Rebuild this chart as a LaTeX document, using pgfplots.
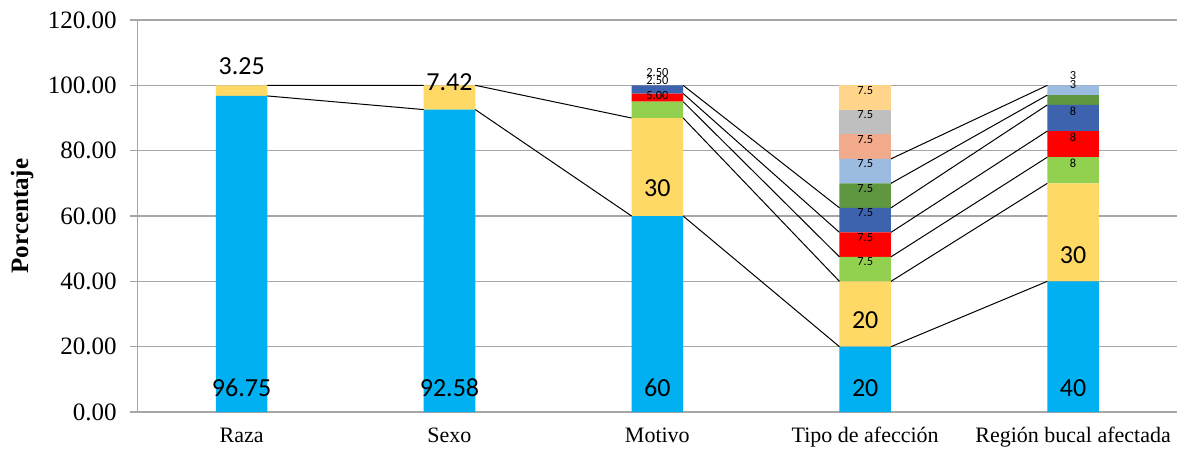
\documentclass[border=0pt]{standalone}
\usepackage{pgfplots}
\pgfplotsset{compat=1.18}
\usepackage{fontspec}
\setmainfont{Liberation Serif}
\newfontfamily\calib{Carlito}

\definecolor{cA}{HTML}{00B0F0}
\definecolor{cB}{HTML}{FFD966}
\definecolor{cC}{HTML}{92D050}
\definecolor{cD}{HTML}{FF0000}
\definecolor{cE}{HTML}{3D63AE}
\definecolor{cF}{HTML}{5F9640}
\definecolor{cG}{HTML}{9BBBE0}
\definecolor{cH}{HTML}{F2AA8C}
\definecolor{cI}{HTML}{BFBFBF}
\definecolor{cJ}{HTML}{FFD58C}
\definecolor{gridc}{HTML}{A6A6A6}

\tikzset{
  biglab/.style={font=\calib\fontsize{13}{15}\selectfont, inner sep=0pt},
  smlab/.style={font=\calib\fontsize{6.2}{7}\selectfont, inner sep=0pt},
}

\begin{document}
\begin{tikzpicture}
\pgfplotsset{
  base/.style={scale only axis, width=519.65pt, height=196pt,
    xmin=-0.5, xmax=4.5, ymin=0, ymax=120},
}
\begin{axis}[base, name=ax,
  ybar stacked, bar width=0.248,
  axis lines*=left,
  axis line style={draw=gridc, line width=0.75pt},
  ytick={0,20,...,120}, ymajorgrids,
  grid style={draw=gridc, line width=0.75pt},
  tick align=outside, major tick length=4pt,
  ytick style={draw=gridc, line width=0.75pt},
  xtick={0,1,2,3,4},
  xticklabels={Raza,Sexo,Motivo,Tipo de afección,Región bucal afectada},
  xtick style={draw=none},
  xticklabel style={font=\fontsize{11}{13}\selectfont, text height=8pt, text depth=2pt, inner sep=0pt, yshift=-3pt},
  yticklabel style={font=\fontsize{12.5}{14}\selectfont, xshift=-3pt},
  /pgf/number format/fixed, /pgf/number format/fixed zerofill,
  /pgf/number format/precision=2, /pgf/number format/assume math mode=true,
  ylabel={Porcentaje},
  every axis y label/.style={at={(axis description cs:-0.1113,0.5)}, rotate=90, anchor=center,
    font=\bfseries\fontsize{12.5}{14}\selectfont},
]
\addplot[fill=cA, draw=none] coordinates {(0,96.75) (1,92.58) (2,60) (3,20) (4,40)};
\addplot[fill=cB, draw=none] coordinates {(0,3.25) (1,7.42) (2,30) (3,20) (4,30)};
\addplot[fill=cC, draw=none] coordinates {(0,0) (1,0) (2,5) (3,7.5) (4,8)};
\addplot[fill=cD, draw=none] coordinates {(0,0) (1,0) (2,2.5) (3,7.5) (4,8)};
\addplot[fill=cE, draw=none] coordinates {(0,0) (1,0) (2,2.5) (3,7.5) (4,8)};
\addplot[fill=cF, draw=none] coordinates {(0,0) (1,0) (2,0) (3,7.5) (4,3)};
\addplot[fill=cG, draw=none] coordinates {(0,0) (1,0) (2,0) (3,7.5) (4,3)};
\addplot[fill=cH, draw=none] coordinates {(0,0) (1,0) (2,0) (3,7.5) (4,0)};
\addplot[fill=cI, draw=none] coordinates {(0,0) (1,0) (2,0) (3,7.5) (4,0)};
\addplot[fill=cJ, draw=none] coordinates {(0,0) (1,0) (2,0) (3,7.5) (4,0)};
\end{axis}

% series lines between the stacks, and the data labels on top
\begin{axis}[base, hide axis, unbounded coords=jump, clip=false]
\addplot[black, line width=0.5pt, mark=none] coordinates {
  (0.124,96.75) (0.876,92.58) (0.5,nan)
  (0.124,100) (0.876,100) (0.5,nan)
  (1.124,92.58) (1.876,60) (1.5,nan)
  (1.124,100) (1.876,90) (1.5,nan)
  (2.124,60) (2.876,20) (2.5,nan)
  (2.124,90) (2.876,40) (2.5,nan)
  (2.124,95) (2.876,47.5) (2.5,nan)
  (2.124,97.5) (2.876,55) (2.5,nan)
  (2.124,100) (2.876,62.5) (2.5,nan)
  (3.124,20) (3.876,40) (3.5,nan)
  (3.124,40) (3.876,70) (3.5,nan)
  (3.124,47.5) (3.876,78) (3.5,nan)
  (3.124,55) (3.876,86) (3.5,nan)
  (3.124,62.5) (3.876,94) (3.5,nan)
  (3.124,70) (3.876,97) (3.5,nan)
  (3.124,77.5) (3.876,100)
};
\node[biglab] at (axis cs:0,7.3) {96.75};
\node[biglab] at (axis cs:0,105.8) {3.25};
\node[biglab] at (axis cs:1,7.3) {92.58};
\node[biglab] at (axis cs:1,100.9) {7.42};
\node[biglab] at (axis cs:2,7.3) {60};
\node[biglab] at (axis cs:2,68.6) {30};
\node[biglab] at (axis cs:3,7.3) {20};
\node[biglab] at (axis cs:3,28.2) {20};
\node[biglab] at (axis cs:4,7.3) {40};
\node[biglab] at (axis cs:4,48.1) {30};
\node[smlab] at (axis cs:2,97.0) {5.00};
\node[smlab] at (axis cs:2,101.4) {2.50};
\node[smlab] at (axis cs:2,104.0) {2.50};
\node[smlab] at (axis cs:3,45.9) {7.5};
\node[smlab] at (axis cs:3,53.4) {7.5};
\node[smlab] at (axis cs:3,60.9) {7.5};
\node[smlab] at (axis cs:3,68.4) {7.5};
\node[smlab] at (axis cs:3,75.9) {7.5};
\node[smlab] at (axis cs:3,83.4) {7.5};
\node[smlab] at (axis cs:3,90.9) {7.5};
\node[smlab] at (axis cs:3,98.4) {7.5};
\node[smlab] at (axis cs:4,76.1) {8};
\node[smlab] at (axis cs:4,84.1) {8};
\node[smlab] at (axis cs:4,91.9) {8};
\node[smlab] at (axis cs:4,100.1) {3};
\node[smlab] at (axis cs:4,102.9) {3};
\end{axis}

\pgfresetboundingbox
\path ([xshift=-68.85pt,yshift=-20pt]ax.south west) rectangle ([yshift=10pt]ax.north east);
\end{tikzpicture}
\end{document}
